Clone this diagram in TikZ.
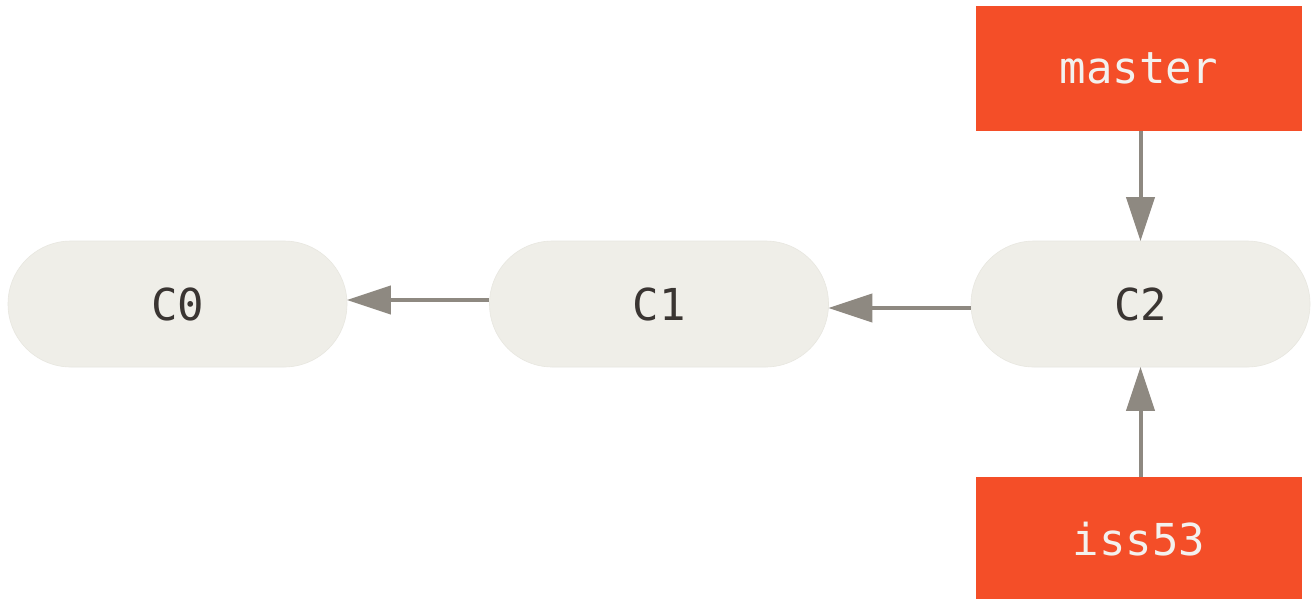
\documentclass[tikz,border=0pt]{standalone}
\usepackage{fontspec}
\setmonofont{DejaVu Sans Mono}
\usetikzlibrary{arrows.meta}
\definecolor{pillfill}{HTML}{EFEEE8}
\definecolor{pilledge}{HTML}{E8E7E0}
\definecolor{branch}{HTML}{F44E28}
\definecolor{arrowgray}{HTML}{8E8981}
\definecolor{pilltext}{HTML}{3A3532}
\definecolor{branchtext}{HTML}{F3F1EE}
\begin{document}
\begin{tikzpicture}[x=1pt,y=-1pt,
  commit/.style={draw=pilledge, line width=0.6pt, fill=pillfill, rounded corners=63pt,
    minimum width=339pt, minimum height=126pt, inner sep=0pt,
    font=\ttfamily\fontsize{44}{52}\selectfont, text=pilltext},
  branchbox/.style={fill=branch, minimum width=326pt, minimum height=125pt, inner sep=0pt,
    font=\ttfamily\fontsize{44}{52}\selectfont, text=branchtext},
  link/.style={draw=arrowgray, line width=4pt, -{Triangle[length=44pt,width=28pt]}, shorten >=-0.5pt}]
\path[use as bounding box, fill=white] (0,0) rectangle (1314,598);
\node[commit] (c0) at (177.5,304) {C0};
\node[commit] (c1) at (659,304) {C1};
\node[commit] (c2) at (1140.5,304) {C2};
\node[branchbox] (master) at (1139,68.5) {master};
\node[branchbox] (iss) at (1139,539.5) {iss53};
\draw[link] ([yshift=4pt]c1.west) -- ([yshift=4pt]c0.east);
\draw[link] ([yshift=-4pt]c2.west) -- ([yshift=-4pt]c1.east);
\draw[link] (master.south -| c2.north) -- (c2.north);
\draw[link] (iss.north -| c2.south) -- (c2.south);
\end{tikzpicture}
\end{document}
